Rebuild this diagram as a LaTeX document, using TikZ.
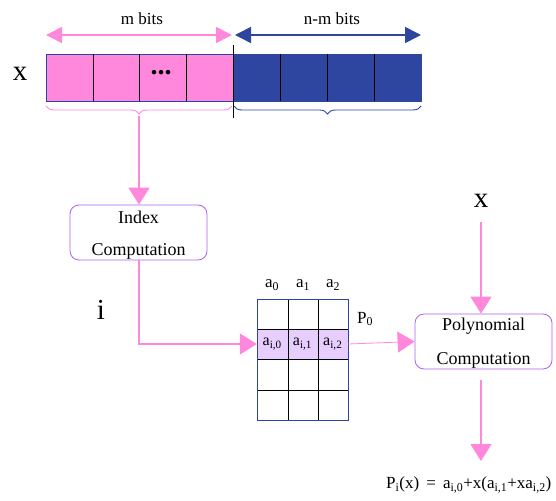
\documentclass[tikz,border=0pt]{standalone}
\usepackage{fontspec}
\setmainfont{Liberation Serif}
\usetikzlibrary{arrows.meta,decorations.pathreplacing,calc}
\definecolor{pk}{RGB}{255,136,220}
\definecolor{bl}{RGB}{46,70,160}
\definecolor{pu}{RGB}{175,95,245}
\definecolor{hl}{RGB}{232,206,255}
\begin{document}
\begin{tikzpicture}[x=1pt,y=-1pt,
  bigarrow/.style={draw=pk,line width=1.8pt,-{Triangle[width=21pt,length=17pt]}},
  thinarrow/.style={draw=pk,line width=0.8pt,-{Triangle[width=21pt,length=17pt]}},
  dimarrow/.style={line width=1.6pt,{Triangle[width=16pt,length=16pt]}-{Triangle[width=16pt,length=16pt]}},
  procbox/.style={draw=pu,line width=0.8pt,rounded corners=9pt,minimum width=137pt,minimum height=55pt,inner sep=0pt},
  boxtxt/.style={font=\fontsize{18}{21}\selectfont,inner sep=0pt},
  cell/.style={minimum width=30.3pt,minimum height=30pt,inner sep=0pt,font=\fontsize{16}{18}\selectfont},
  lbl/.style={font=\fontsize{17}{19}\selectfont,inner sep=0pt},
  biglbl/.style={font=\fontsize{29}{30}\selectfont,inner sep=0pt},
  regbrace/.style={decorate,decoration={brace,amplitude=8pt,mirror},line width=0.9pt}
]
\useasboundingbox (0,0) rectangle (556,500);
% register
\node[fill=pk,draw=bl,line width=0.6pt,minimum width=187pt,minimum height=47pt,inner sep=0pt] (preg) at (139.5,77.5) {};
\node[fill=bl,draw=bl,line width=0.6pt,minimum width=188pt,minimum height=47pt,inner sep=0pt] (breg) at (327,77.5) {};
\foreach \xx in {93,139,186} \draw[black,line width=0.6pt] (\xx,54) -- (\xx,101);
\foreach \xx in {280,327,374} \draw[black,line width=0.6pt] (\xx,54) -- (\xx,101);
\node[font=\fontsize{28}{28}\bfseries,inner sep=0pt] (dots) at (161,73) {...};
\draw[black,line width=0.5pt] (233,45) -- (233,118);
% dimension arrows
\draw[dimarrow,draw=pk,fill=pk] (46,35) -- (232,35);
\draw[dimarrow,draw=bl,fill=bl] (235,35) -- (421,35);
\node[lbl] (mlab) at (142,19) {m bits};
\node[lbl] (nmlab) at (332,19) {n-m bits};
\node[biglbl] (xlab) at (20,74) {x};
% braces
\draw[regbrace,pk] (46,106) -- (232,106);
\draw[regbrace,bl] (234,106) -- (421,106);
\coordinate (ptip) at (139,116);
% index computation
\node[procbox] (idx) at (138.5,232.5) {};
\node[boxtxt] (idxa) at (138.5,217) {Index};
\node[boxtxt] (idxb) at (138.5,251) {Computation};
\draw[bigarrow] (ptip) -- (idx.north -| ptip);
\node[biglbl] (ilab) at (101,310) {i};
% table
\fill[hl] (257,329) rectangle (348,359);
\node[cell] (r1c0) at (272.2,344) {a\textsubscript{i,0}};
\node[cell] (r1c1) at (302.5,344) {a\textsubscript{i,1}};
\node[cell] (r1c2) at (332.8,344) {a\textsubscript{i,2}};
\node[minimum width=91pt,minimum height=30pt,inner sep=0pt] (row) at (302.5,344) {};
\foreach \xx in {288,318} \draw[black,line width=0.6pt] (\xx,299) -- (\xx,420);
\foreach \yy in {329,359,390} \draw[black,line width=0.6pt] (257,\yy) -- (348,\yy);
\draw[bl,line width=0.7pt] (257,299) rectangle (348,420);
\node[lbl] (a0) at (272,285) {a\textsubscript{0}};
\node[lbl] (a1) at (303,285) {a\textsubscript{1}};
\node[lbl] (a2) at (333,285) {a\textsubscript{2}};
\node[lbl] (p0) at (365,319) {P\textsubscript{0}};
\draw[bigarrow] (idx.south -| ptip) |- (row.west);
% polynomial computation
\node[procbox] (poly) at (483.5,341.5) {};
\node[boxtxt] (polya) at (483.5,326) {Polynomial};
\node[boxtxt] (polyb) at (483.5,360) {Computation};
\draw[thinarrow] (row.east) -- (poly.west);
\node[biglbl] (x2) at (481,201) {x};
\draw[bigarrow] ($(x2.south)+(0,14)$) -- (x2 |- poly.north);
\coordinate (restip) at (481,461);
\node[lbl,anchor=west] (res) at (386,485) {P\textsubscript{i}(x) \,=\, a\textsubscript{i,0}+x(a\textsubscript{i,1}+xa\textsubscript{i,2})};
\draw[bigarrow,shorten <=11pt] (x2 |- poly.south) -- (restip);
\end{tikzpicture}
\end{document}
